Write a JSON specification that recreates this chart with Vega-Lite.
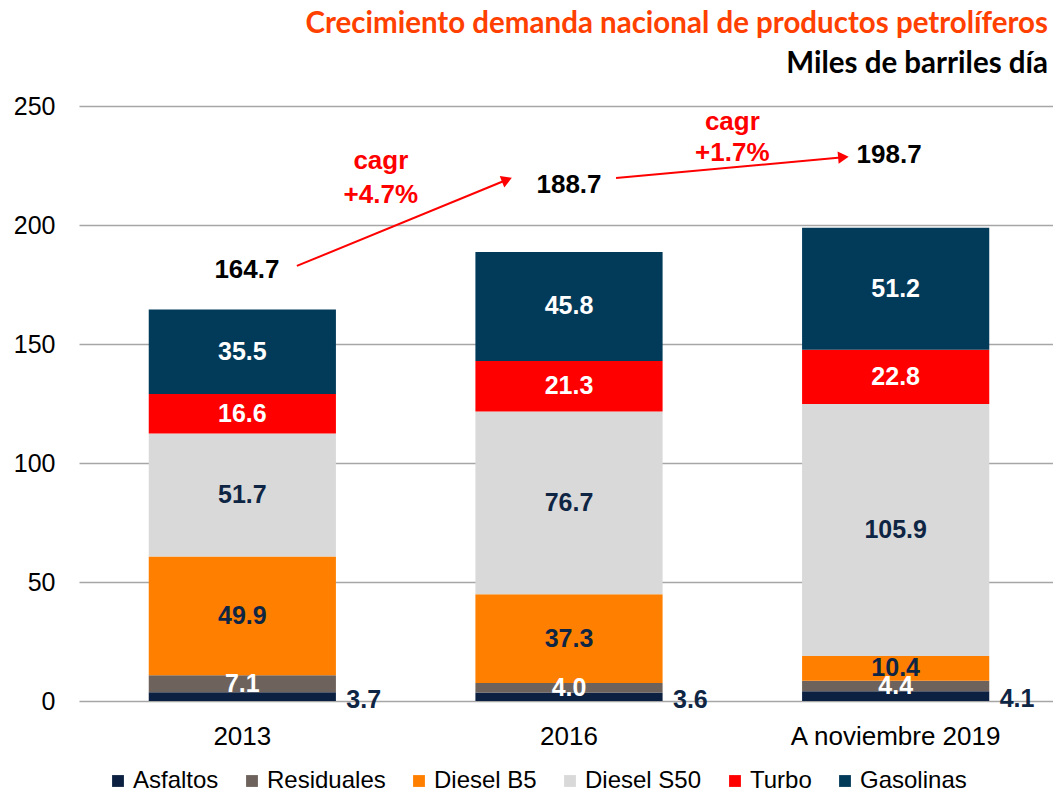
{
  "$schema": "https://vega.github.io/schema/vega-lite/v6.json",
  "width": 980,
  "height": 595,
  "autosize": {"type": "none"},
  "padding": {"left": 79, "top": 106, "right": 0, "bottom": 91},
  "background": "white",
  "config": {"view": {"stroke": null}, "font": "Liberation Sans"},
  "title": {
    "text": "Crecimiento demanda nacional de productos petrolíferos",
    "subtitle": "Miles de barriles día",
    "anchor": "end",
    "frame": "group",
    "dx": -11,
    "offset": 15,
    "font": "Lato",
    "fontSize": 29.5,
    "fontWeight": "bold",
    "color": "#ff4000",
    "subtitleFont": "Lato",
    "subtitleFontSize": 29.5,
    "subtitleFontWeight": "bold",
    "subtitleColor": "#000000",
    "subtitlePadding": 10
  },
  "datasets": {
    "demanda": [
      {"anio": "2013", "producto": "Asfaltos", "orden": 1, "v": 3.7},
      {"anio": "2013", "producto": "Residuales", "orden": 2, "v": 7.1},
      {"anio": "2013", "producto": "Diesel B5", "orden": 3, "v": 49.9},
      {"anio": "2013", "producto": "Diesel S50", "orden": 4, "v": 51.7},
      {"anio": "2013", "producto": "Turbo", "orden": 5, "v": 16.6},
      {"anio": "2013", "producto": "Gasolinas", "orden": 6, "v": 35.5},
      {"anio": "2016", "producto": "Asfaltos", "orden": 1, "v": 3.6},
      {"anio": "2016", "producto": "Residuales", "orden": 2, "v": 4.0},
      {"anio": "2016", "producto": "Diesel B5", "orden": 3, "v": 37.3},
      {"anio": "2016", "producto": "Diesel S50", "orden": 4, "v": 76.7},
      {"anio": "2016", "producto": "Turbo", "orden": 5, "v": 21.3},
      {"anio": "2016", "producto": "Gasolinas", "orden": 6, "v": 45.8},
      {"anio": "A noviembre 2019", "producto": "Asfaltos", "orden": 1, "v": 4.1},
      {"anio": "A noviembre 2019", "producto": "Residuales", "orden": 2, "v": 4.4},
      {"anio": "A noviembre 2019", "producto": "Diesel B5", "orden": 3, "v": 10.4},
      {"anio": "A noviembre 2019", "producto": "Diesel S50", "orden": 4, "v": 105.9},
      {"anio": "A noviembre 2019", "producto": "Turbo", "orden": 5, "v": 22.8},
      {"anio": "A noviembre 2019", "producto": "Gasolinas", "orden": 6, "v": 51.2}
    ],
    "totales": [
      {"pos": 0.514, "alto": 181.1, "texto": "164.7"},
      {"pos": 1.5, "alto": 216.8, "texto": "188.7"},
      {"pos": 2.48, "alto": 229.4, "texto": "198.7"}
    ],
    "cagr": [
      {"pos": 0.924, "alto": 226.9, "texto": "cagr"},
      {"pos": 0.924, "alto": 212.6, "texto": "+4.7%"},
      {"pos": 2.0, "alto": 243.3, "texto": "cagr"},
      {"pos": 2.0, "alto": 230.3, "texto": "+1.7%"}
    ],
    "flechas": [
      {"flecha": "a", "extremo": "inicio", "pos": 0.667, "alto": 182.8},
      {"flecha": "a", "extremo": "fin", "pos": 1.31, "alto": 219.0},
      {"flecha": "b", "extremo": "inicio", "pos": 1.644, "alto": 219.7},
      {"flecha": "b", "extremo": "fin", "pos": 2.34, "alto": 228.5}
    ]
  },
  "layer": [
    {
      "data": {"name": "demanda"},
      "transform": [
        {"stack": "v", "groupby": ["anio"], "sort": [{"field": "orden"}], "as": ["v0", "v1"]},
        {"calculate": "(datum.v0 + datum.v1) / 2", "as": "mid"}
      ],
      "encoding": {
        "x": {
          "field": "anio",
          "type": "nominal",
          "sort": ["2013", "2016", "A noviembre 2019"],
          "scale": {"paddingInner": 0.427, "paddingOuter": 0.2135},
          "axis": {
            "title": null,
            "labelAngle": 0,
            "ticks": false,
            "domain": false,
            "grid": false,
            "labelFontSize": 26,
            "labelPadding": 22,
            "labelLimit": 500,
            "labelColor": "#000000"
          }
        }
      },
      "layer": [
        {
          "mark": {"type": "bar"},
          "encoding": {
            "y": {
              "field": "v0",
              "type": "quantitative",
              "scale": {"domain": [0, 250], "nice": false},
              "axis": {
                "title": null,
                "values": [0, 50, 100, 150, 200, 250],
                "ticks": false,
                "domain": false,
                "labelFontSize": 25,
                "labelPadding": 24,
                "labelColor": "#000000",
                "gridColor": "#a6a6a6",
                "gridWidth": 1.5
              }
            },
            "y2": {"field": "v1"},
            "color": {
              "field": "producto",
              "type": "nominal",
              "scale": {
                "domain": ["Asfaltos", "Residuales", "Diesel B5", "Diesel S50", "Turbo", "Gasolinas"],
                "range": ["#0c2141", "#6e635c", "#ff8000", "#d9d9d9", "#ff0000", "#023a5a"]
              },
              "legend": {
                "orient": "none",
                "legendX": 27,
                "legendY": 663,
                "direction": "horizontal",
                "title": null,
                "symbolType": "square",
                "symbolSize": 140,
                "symbolStrokeWidth": 0,
                "labelFontSize": 24,
                "labelFont": "Liberation Sans",
                "labelColor": "#000000",
                "labelOffset": 3,
                "columnPadding": 21,
                "labelLimit": 300
              }
            }
          }
        },
        {
          "transform": [{"filter": "datum.producto == 'Residuales' || datum.producto == 'Turbo' || datum.producto == 'Gasolinas'"}],
          "mark": {"type": "text", "fontSize": 25, "fontWeight": "bold", "color": "#ffffff", "baseline": "middle"},
          "encoding": {
            "y": {"field": "mid", "type": "quantitative"},
            "text": {"field": "v", "type": "quantitative", "format": ".1f"}
          }
        },
        {
          "transform": [{"filter": "datum.producto == 'Diesel B5' || datum.producto == 'Diesel S50'"}],
          "mark": {"type": "text", "fontSize": 25, "fontWeight": "bold", "color": "#0f2544", "baseline": "middle"},
          "encoding": {
            "y": {"field": "mid", "type": "quantitative"},
            "text": {"field": "v", "type": "quantitative", "format": ".1f"}
          }
        },
        {
          "transform": [{"filter": "datum.producto == 'Asfaltos'"}],
          "mark": {"type": "text", "fontSize": 25, "fontWeight": "bold", "color": "#0f2544", "baseline": "middle", "align": "left", "dx": 104, "dy": 3},
          "encoding": {
            "y": {"field": "mid", "type": "quantitative"},
            "text": {"field": "v", "type": "quantitative", "format": ".1f"}
          }
        }
      ]
    },
    {
      "data": {"name": "flechas"},
      "mark": {"type": "line", "color": "#ff0000", "strokeWidth": 2},
      "encoding": {
        "x": {"field": "pos", "type": "quantitative", "scale": {"domain": [0, 3], "nice": false, "zero": false}, "axis": null},
        "y": {"field": "alto", "type": "quantitative"},
        "detail": {"field": "flecha"}
      }
    },
    {
      "data": {"name": "flechas"},
      "transform": [{"filter": "datum.flecha == 'a' && datum.extremo == 'fin'"}],
      "mark": {"type": "point", "shape": "triangle-right", "filled": true, "color": "#ff0000", "size": 150, "angle": 338, "opacity": 1},
      "encoding": {
        "x": {"field": "pos", "type": "quantitative", "scale": {"domain": [0, 3], "nice": false, "zero": false}, "axis": null},
        "y": {"field": "alto", "type": "quantitative"}
      }
    },
    {
      "data": {"name": "flechas"},
      "transform": [{"filter": "datum.flecha == 'b' && datum.extremo == 'fin'"}],
      "mark": {"type": "point", "shape": "triangle-right", "filled": true, "color": "#ff0000", "size": 150, "angle": 355, "opacity": 1},
      "encoding": {
        "x": {"field": "pos", "type": "quantitative", "scale": {"domain": [0, 3], "nice": false, "zero": false}, "axis": null},
        "y": {"field": "alto", "type": "quantitative"}
      }
    },
    {
      "data": {"name": "totales"},
      "mark": {"type": "text", "fontSize": 26, "fontWeight": "bold", "color": "#000000", "baseline": "middle"},
      "encoding": {
        "x": {"field": "pos", "type": "quantitative", "scale": {"domain": [0, 3], "nice": false, "zero": false}, "axis": null},
        "y": {"field": "alto", "type": "quantitative"},
        "text": {"field": "texto"}
      }
    },
    {
      "data": {"name": "cagr"},
      "mark": {"type": "text", "fontSize": 26, "fontWeight": "bold", "color": "#ff0000", "baseline": "middle"},
      "encoding": {
        "x": {"field": "pos", "type": "quantitative", "scale": {"domain": [0, 3], "nice": false, "zero": false}, "axis": null},
        "y": {"field": "alto", "type": "quantitative"},
        "text": {"field": "texto"}
      }
    }
  ],
  "resolve": {"scale": {"x": "independent"}}
}
